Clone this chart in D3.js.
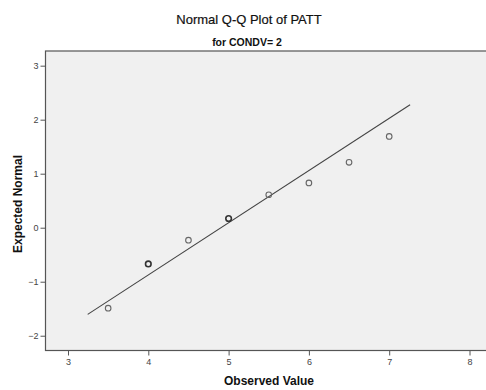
<!DOCTYPE html>
<html>
<head>
<meta charset="utf-8">
<script src="https://cdn.jsdelivr.net/npm/d3@7"></script>
<style>
  html, body { margin: 0; padding: 0; background: #ffffff; overflow: hidden; }
  svg { display: block; font-family: "Liberation Sans", Arial, sans-serif; }
</style>
</head>
<body>
<script>
// Observed values and their expected normal scores
const observed = [3.5, 4, 4.5, 5, 5.5, 6, 6.5, 7];
const expectedNormal = [-1.49, -0.67, -0.23, 0.17, 0.61, 0.83, 1.21, 1.69];
// Points drawn with heavier outline (tied observations)
const heavy = [false, true, false, true, false, false, false, false];
// Reference line endpoints (observed, expected)
const lineX = [3.245, 7.26];
const lineY = [-1.604, 2.278];
// Axis ticks
const xTicks = [3, 4, 5, 6, 7, 8];
const yTicks = [-2, -1, 0, 1, 2, 3];

const W = 486, H = 390;
const plot = { left: 45.5, top: 51, right: 492, bottom: 350.5 };

const svg = d3.select("body").append("svg").attr("width", W).attr("height", H);

const x = d3.scaleLinear()
  .domain([3 - (68 - plot.left) / 80.3, 3 + (plot.right - 68) / 80.3])
  .range([plot.left, plot.right]);
const y = d3.scaleLinear()
  .domain([-2 - (plot.bottom - 335.7) / 54.1, 3 + (65.7 - plot.top) / 54.1])
  .range([plot.bottom, plot.top]);

// Plot area
svg.append("rect")
  .attr("x", plot.left).attr("y", plot.top)
  .attr("width", plot.right - plot.left).attr("height", plot.bottom - plot.top)
  .attr("fill", "#f0f0f0")
  .attr("stroke", "#555").attr("stroke-width", 1.2);

// Axes
const xAxis = svg.append("g")
  .attr("transform", `translate(0,${plot.bottom})`)
  .call(d3.axisBottom(x).tickValues(xTicks).tickFormat(d3.format("d")).tickSize(5).tickPadding(3));
const yAxis = svg.append("g")
  .attr("transform", `translate(${plot.left},0)`)
  .call(d3.axisLeft(y).tickValues(yTicks).tickFormat(d3.format("d")).tickSize(5).tickPadding(2));
[xAxis, yAxis].forEach(g => {
  g.select(".domain").remove();
  g.selectAll(".tick line").attr("stroke", "#555");
  g.selectAll(".tick text").attr("fill", "#444").style("font-size", "9px")
    .style("font-family", "'Liberation Sans', Arial, sans-serif");
});

// Reference line
svg.append("line")
  .attr("x1", x(lineX[0])).attr("y1", y(lineY[0]))
  .attr("x2", x(lineX[1])).attr("y2", y(lineY[1]))
  .attr("stroke", "#444").attr("stroke-width", 1.1);

// Points
svg.append("g").selectAll("circle")
  .data(observed.map((v, i) => ({ v, e: expectedNormal[i], h: heavy[i] })))
  .join("circle")
  .attr("cx", d => x(d.v)).attr("cy", d => y(d.e))
  .attr("r", 2.8)
  .attr("fill", "none")
  .attr("stroke", d => d.h ? "#333" : "#666")
  .attr("stroke-width", d => d.h ? 1.6 : 1.1);

// Titles
svg.append("text").attr("x", 249).attr("y", 24).attr("text-anchor", "middle")
  .style("font-size", "13px").attr("fill", "#111").attr("stroke", "#111").attr("stroke-width", 0.2)
  .text("Normal Q-Q Plot of PATT");
svg.append("text").attr("x", 247).attr("y", 46).attr("text-anchor", "middle")
  .style("font-size", "10.5px").style("font-weight", "bold").attr("fill", "#111").text("for CONDV= 2");

// Axis titles
svg.append("text").attr("x", 269).attr("y", 385).attr("text-anchor", "middle")
  .style("font-size", "12px").style("font-weight", "bold").attr("fill", "#111").text("Observed Value");
svg.append("text").attr("transform", "translate(22,204) rotate(-90)").attr("text-anchor", "middle")
  .style("font-size", "12px").style("font-weight", "bold").attr("fill", "#111").text("Expected Normal");
</script>
</body>
</html>
